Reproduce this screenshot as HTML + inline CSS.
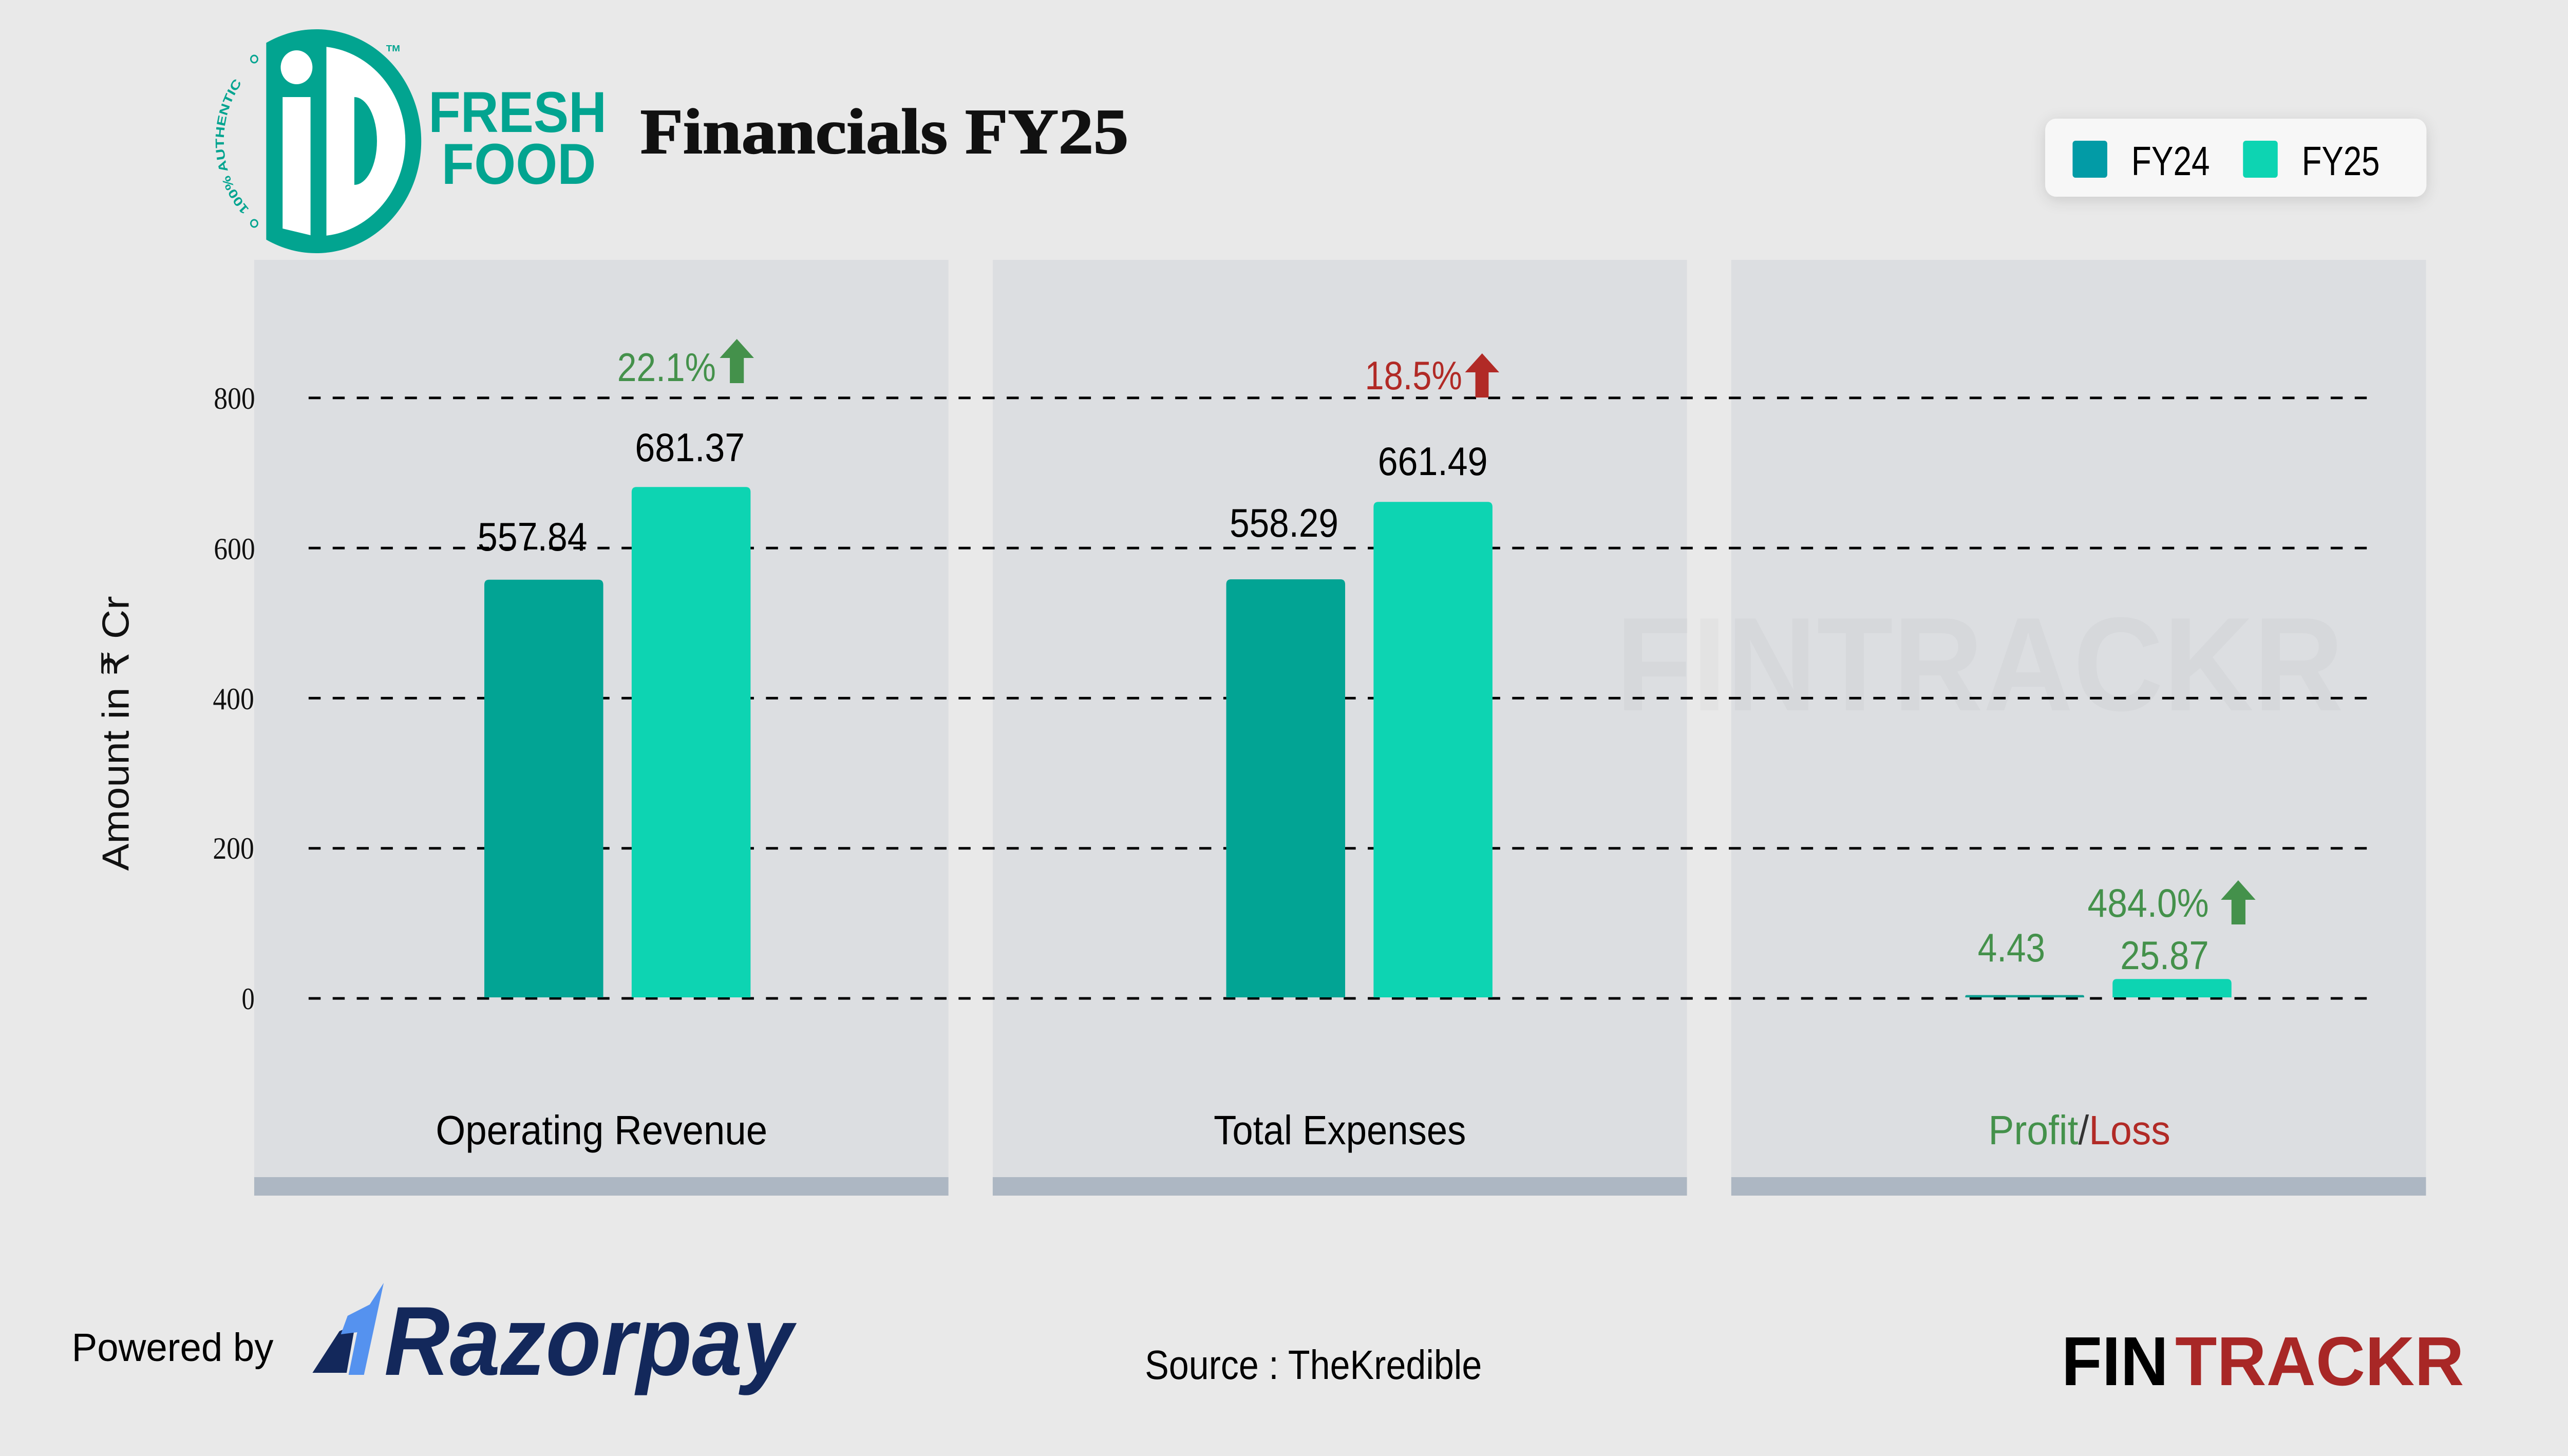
<!DOCTYPE html>
<html>
<head>
<meta charset="utf-8">
<style>
html,body{margin:0;padding:0;background:#e9e9e9;width:100%;height:100%;overflow:hidden;}
svg{display:block;position:fixed;left:0;top:0;width:100vw;height:100vh;}
</style>
</head>
<body>
<svg viewBox="0 0 5334 2835" preserveAspectRatio="none" xmlns="http://www.w3.org/2000/svg">
<defs>
<filter id="sh" x="-10%" y="-40%" width="120%" height="180%">
<feGaussianBlur in="SourceAlpha" stdDeviation="16"/>
<feOffset dy="6"/>
<feComponentTransfer><feFuncA type="linear" slope="0.14"/></feComponentTransfer>
<feMerge><feMergeNode/><feMergeNode in="SourceGraphic"/></feMerge>
</filter>
<path id="arcp" d="M 523.6 413.1 A 192 192 0 0 1 523.6 136.9"/>
</defs>

<rect x="0" y="0" width="5334" height="2835" fill="#e9e9e9"/>

<!-- Logo -->
<g>
<path d="M 553 83.4 A 218 218 0 1 1 553 466.6 Z" fill="#02a490"/>
<circle cx="616" cy="131" r="33" fill="#ffffff"/>
<polygon points="587,189 645,189 645,458 587,445" fill="#ffffff"/>
<path d="M 678 91.2 A 185 185 0 0 1 678 458.8 Z" fill="#ffffff"/>
<path d="M 736 189 A 47 85.5 0 0 1 736 360 Z" fill="#02a490"/>
<circle cx="528" cy="435" r="7" fill="none" stroke="#02a490" stroke-width="3"/>
<circle cx="528" cy="115" r="7" fill="none" stroke="#02a490" stroke-width="3"/>
<text font-family="Liberation Sans, DejaVu Sans, sans-serif" font-weight="bold" font-size="25" fill="#02a490"><textPath href="#arcp" startOffset="8" textLength="268" lengthAdjust="spacingAndGlyphs">100% AUTHENTIC</textPath></text>
<text x="802" y="100" font-family="Liberation Sans, sans-serif" font-weight="bold" font-size="18" fill="#02a490" textLength="29" lengthAdjust="spacingAndGlyphs">TM</text>
<text x="890" y="257" font-family="Liberation Sans, sans-serif" font-weight="bold" font-size="112" fill="#02a490" textLength="370" lengthAdjust="spacingAndGlyphs">FRESH</text>
<text x="917" y="358" font-family="Liberation Sans, sans-serif" font-weight="bold" font-size="112" fill="#02a490" textLength="321" lengthAdjust="spacingAndGlyphs">FOOD</text>
</g>

<!-- Title -->
<text x="1330" y="298" font-family="Liberation Serif, DejaVu Serif, serif" font-weight="bold" font-size="125" fill="#111" stroke="#111" stroke-width="2" textLength="1014" lengthAdjust="spacingAndGlyphs">Financials FY25</text>

<!-- Legend -->
<rect x="4248" y="231" width="792" height="152" rx="23" fill="#f7f7f7" filter="url(#sh)"/>
<rect x="4305" y="274" width="72" height="72" rx="6" fill="#029ba6"/>
<rect x="4659" y="274" width="72" height="72" rx="6" fill="#0dd4b2"/>
<text x="4427" y="341" font-family="Liberation Sans, sans-serif" font-size="80" fill="#000" textLength="163" lengthAdjust="spacingAndGlyphs">FY24</text>
<text x="4781" y="341" font-family="Liberation Sans, sans-serif" font-size="80" fill="#000" textLength="162" lengthAdjust="spacingAndGlyphs">FY25</text>

<!-- Panels -->
<rect x="528" y="506" width="1442" height="1786" fill="#dcdee1"/>
<rect x="2062" y="506" width="1442" height="1786" fill="#dcdee1"/>
<rect x="3596" y="506" width="1443" height="1786" fill="#dcdee1"/>
<rect x="528" y="2292" width="1442" height="36" fill="#adb7c3"/>
<rect x="2062" y="2292" width="1442" height="36" fill="#adb7c3"/>
<rect x="3596" y="2292" width="1443" height="36" fill="#adb7c3"/>

<!-- Watermark -->
<text x="3356" y="1383" font-family="Liberation Sans, sans-serif" font-weight="bold" font-size="260" fill="#000" fill-opacity="0.025" textLength="1512" lengthAdjust="spacingAndGlyphs">FINTRACKR</text>

<!-- Gridlines -->
<g stroke="#000" stroke-width="5" stroke-dasharray="25 25">
<line x1="641" y1="774.8" x2="4920" y2="774.8"/>
<line x1="641" y1="1067.1" x2="4920" y2="1067.1"/>
<line x1="641" y1="1359.4" x2="4920" y2="1359.4"/>
<line x1="641" y1="1651.7" x2="4920" y2="1651.7"/>
<line x1="641" y1="1944" x2="4920" y2="1944"/>
</g>

<!-- Y tick labels -->
<g font-family="Liberation Serif, DejaVu Serif, serif" font-size="60" fill="#111" text-anchor="end">
<text x="530" y="796" textLength="86" lengthAdjust="spacingAndGlyphs">800</text>
<text x="530" y="1089" textLength="86" lengthAdjust="spacingAndGlyphs">600</text>
<text x="528" y="1381" textLength="86" lengthAdjust="spacingAndGlyphs">400</text>
<text x="528" y="1672" textLength="86" lengthAdjust="spacingAndGlyphs">200</text>
<text x="529" y="1965" textLength="27" lengthAdjust="spacingAndGlyphs">0</text>
</g>

<!-- Y axis label -->
<text x="267" y="1428" transform="rotate(-90 267 1428)" text-anchor="middle" font-family="Liberation Sans, DejaVu Sans, sans-serif" font-size="78" fill="#111" textLength="535" lengthAdjust="spacingAndGlyphs">Amount in ₹ Cr</text>

<!-- Bars -->
<g>
<path d="M1006,1942 V1138.7 Q1006,1128.7 1016,1128.7 H1243 Q1253,1128.7 1253,1138.7 V1942 Z" fill="#02a494"/>
<path d="M1312,1942 V958.2 Q1312,948.2 1322,948.2 H1549 Q1559,948.2 1559,958.2 V1942 Z" fill="#0dd4b2"/>
<path d="M2547,1942 V1138 Q2547,1128 2557,1128 H2784 Q2794,1128 2794,1138 V1942 Z" fill="#02a494"/>
<path d="M2853,1942 V987.2 Q2853,977.2 2863,977.2 H3090 Q3100,977.2 3100,987.2 V1942 Z" fill="#0dd4b2"/>
<path d="M4082,1942 V1940.5 Q4082,1937.5 4085,1937.5 H4326 Q4329,1937.5 4329,1940.5 V1942 Z" fill="#0f9e91"/>
<path d="M4388,1942 V1915 Q4388,1906.2 4397,1906.2 H4626 Q4635,1906.2 4635,1915 V1942 Z" fill="#0dd4b2"/>
</g>

<!-- Value labels -->
<g font-family="Liberation Sans, sans-serif" font-size="78" fill="#000">
<text x="992" y="1072" textLength="228" lengthAdjust="spacingAndGlyphs">557.84</text>
<text x="1319" y="898" textLength="228" lengthAdjust="spacingAndGlyphs">681.37</text>
<text x="2554" y="1045" textLength="226" lengthAdjust="spacingAndGlyphs">558.29</text>
<text x="2862" y="925" textLength="228" lengthAdjust="spacingAndGlyphs">661.49</text>
</g>
<g font-family="Liberation Sans, sans-serif" font-size="78" fill="#44914b">
<text x="1282" y="742" textLength="205" lengthAdjust="spacingAndGlyphs">22.1%</text>
<text x="4108" y="1872" textLength="140" lengthAdjust="spacingAndGlyphs">4.43</text>
<text x="4404" y="1887" textLength="184" lengthAdjust="spacingAndGlyphs">25.87</text>
<text x="4336" y="1785" textLength="252" lengthAdjust="spacingAndGlyphs">484.0%</text>
</g>
<text x="2835" y="758" font-family="Liberation Sans, sans-serif" font-size="78" fill="#b12a26" textLength="202" lengthAdjust="spacingAndGlyphs">18.5%</text>

<!-- Arrows -->
<polygon points="1530.5,660 1566,697 1545,697 1545,746 1516,746 1516,697 1495,697" fill="#44914b"/>
<polygon points="3078.5,688 3114,725 3092,725 3092,774 3064.5,774 3064.5,725 3043,725" fill="#b12a26"/>
<polygon points="4649,1714 4685,1752 4664,1752 4664,1800 4635,1800 4635,1752 4613,1752" fill="#44914b"/>

<!-- Category labels -->
<g font-family="Liberation Sans, sans-serif" font-size="80">
<text x="905" y="2228" fill="#000" textLength="689" lengthAdjust="spacingAndGlyphs">Operating Revenue</text>
<text x="2521" y="2228" fill="#000" textLength="524" lengthAdjust="spacingAndGlyphs">Total Expenses</text>
<text x="4130" y="2228" textLength="378" lengthAdjust="spacingAndGlyphs"><tspan fill="#44914b">Profit</tspan><tspan fill="#333">/</tspan><tspan fill="#b12a26">Loss</tspan></text>
</g>

<!-- Footer -->
<text x="149" y="2650" font-family="Liberation Sans, sans-serif" font-size="77" fill="#000" textLength="419" lengthAdjust="spacingAndGlyphs">Powered by</text>
<polygon points="649,2673 705,2592 738,2578 720,2673" fill="#13285b"/>
<polygon points="797,2498 756,2677 724,2677 742,2594 708,2598 722,2562 768,2540" fill="#5592ef"/>
<text x="798" y="2677" font-family="Liberation Sans, sans-serif" font-weight="bold" font-style="italic" font-size="191" fill="#13285b" textLength="849" lengthAdjust="spacingAndGlyphs">Razorpay</text>

<text x="2378" y="2685" font-family="Liberation Sans, sans-serif" font-size="80" fill="#000" textLength="700" lengthAdjust="spacingAndGlyphs">Source : TheKredible</text>

<text x="4282" y="2697" font-family="Liberation Sans, sans-serif" font-weight="bold" font-size="135" fill="#000" textLength="222" lengthAdjust="spacingAndGlyphs">FIN</text>
<text x="4518" y="2697" font-family="Liberation Sans, sans-serif" font-weight="bold" font-size="135" fill="#a82726" textLength="600" lengthAdjust="spacingAndGlyphs">TRACKR</text>
</svg>
</body>
</html>
